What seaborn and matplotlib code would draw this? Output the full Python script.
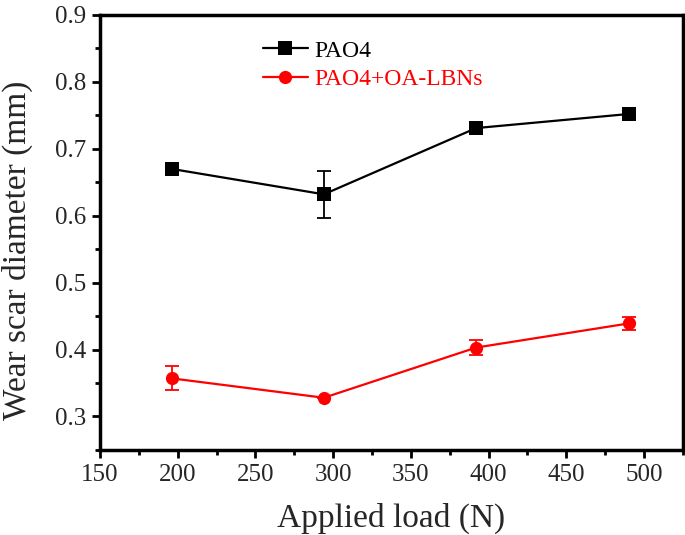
import matplotlib
matplotlib.use("Agg")
import matplotlib.pyplot as plt
import seaborn as sns
import pandas as pd
from matplotlib.ticker import MultipleLocator

loads = [196, 294, 392, 490]
pao4 = [0.670, 0.632, 0.731, 0.752]
pao4_err = [0.0, 0.035, 0.0, 0.0]
lbn = [0.357, 0.328, 0.403, 0.439]
lbn_err = [0.018, 0.0, 0.011, 0.010]
series_names = ["PAO4", "PAO4+OA-LBNs"]

sns.set_theme(style="ticks")
plt.rcParams['font.family'] = ['Liberation Serif', 'DejaVu Serif']
plt.rcParams['mathtext.fontset'] = 'stix'

df = pd.DataFrame({
    "load": loads * 2,
    "wsd": pao4 + lbn,
    "series": [series_names[0]] * 4 + [series_names[1]] * 4,
})

fig = plt.figure(figsize=(6.85, 5.35), dpi=100)
ax = fig.add_axes([0.146, 0.159, 0.851, 0.813])

palette = {series_names[0]: "black", series_names[1]: "red"}
sns.lineplot(data=df, x="load", y="wsd", hue="series", style="series",
             markers={series_names[0]: "s", series_names[1]: "o"},
             dashes=False, palette=palette, markersize=9.5, linewidth=1.6,
             markeredgewidth=0, ax=ax, legend=True)

ax.errorbar(loads, pao4, yerr=pao4_err, fmt="none", ecolor="black",
            elinewidth=1.3, capsize=5, capthick=1.3)
ax.errorbar(loads, lbn, yerr=lbn_err, fmt="none", ecolor="red",
            elinewidth=1.3, capsize=5, capthick=1.3)

ax.set_xlim(150, 525)
ax.set_ylim(0.25, 0.9)
ax.xaxis.set_major_locator(MultipleLocator(50))
ax.xaxis.set_minor_locator(MultipleLocator(25))
ax.yaxis.set_major_locator(MultipleLocator(0.1))
ax.yaxis.set_minor_locator(MultipleLocator(0.05))
ax.yaxis.set_major_formatter(matplotlib.ticker.FormatStrFormatter('%.1f'))

for s in ax.spines.values():
    s.set_linewidth(2.5)
    s.set_color("black")
ax.tick_params(which="major", direction="out", length=6, width=2, labelsize=18,
               color="black", pad=4)
ax.tick_params(which="minor", direction="out", length=3.5, width=2, color="black")
ax.tick_params(axis="both", which="both", top=False, right=False)

ax.set_xlabel("Applied load (N)", fontsize=24, labelpad=12)
ax.set_ylabel("Wear scar diameter (mm)", fontsize=24, labelpad=8)
ax.yaxis.set_label_coords(-0.115, 0.46)

leg = ax.legend(loc="upper left", bbox_to_anchor=(0.255, 0.975), frameon=False,
                fontsize=17, handlelength=1.9, handletextpad=0.3, labelspacing=0.3,
                borderaxespad=0.2)
for text, name in zip(leg.get_texts(), series_names):
    text.set_color(palette[name])

fig.savefig("out.png", dpi=100)
